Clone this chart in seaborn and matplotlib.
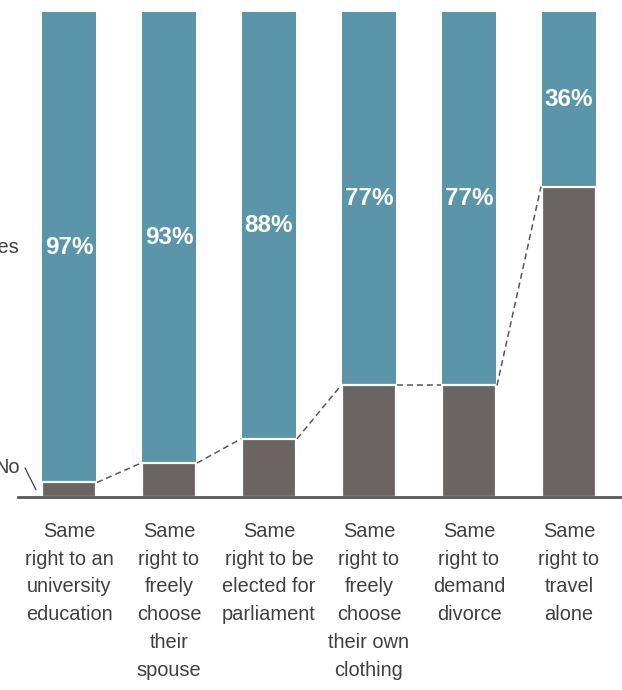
import matplotlib
matplotlib.use("Agg")
import matplotlib.pyplot as plt
import seaborn as sns
import pandas as pd

# Survey: share answering "Yes" to whether women should have the same rights
categories = [
    "Same\nright to an\nuniversity\neducation",
    "Same\nright to\nfreely\nchoose\ntheir\nspouse",
    "Same\nright to be\nelected for\nparliament",
    "Same\nright to\nfreely\nchoose\ntheir own\nclothing",
    "Same\nright to\ndemand\ndivorce",
    "Same\nright to\ntravel\nalone",
]
yes_pct = [97, 93, 88, 77, 77, 36]
no_pct = [100 - v for v in yes_pct]
yes_labels = [f"{v}%" for v in yes_pct]

TEAL = "#5b95aa"
GREY = "#6a6563"
TEXT = "#404040"
AXIS = "#595959"

sns.set_theme(style="white")
plt.rcParams["font.family"] = ["Liberation Sans", "DejaVu Sans"]

df = pd.DataFrame({
    "category": categories,
    "total": [y + n for y, n in zip(yes_pct, no_pct)],
    "no": no_pct,
    "yes": yes_pct,
})

fig = plt.figure(figsize=(6.22, 6.90), dpi=100)
W, H = 622, 690
# axes spans the full width; y from 12px (100%) to 497px (0%)
ax = fig.add_axes([0, (H - 497) / H, 1, (497 - 12) / H])

bar_w = 0.54
sns.barplot(data=df, x="category", y="total", color=TEAL, width=bar_w,
            saturation=1, ax=ax, linewidth=0)
sns.barplot(data=df, x="category", y="no", color=GREY, width=bar_w,
            saturation=1, ax=ax, edgecolor="white", linewidth=1.6)

ax.set_xlim(-0.69, 5.53)
ax.set_ylim(0, 100)

# Yes percentages centred in the upper segment
for i, (n, lab) in enumerate(zip(no_pct, yes_labels)):
    ax.text(i, n + (100 - n) / 2, lab, ha="center", va="center",
            color="white", fontsize=17.5, fontweight="bold")

# dashed connectors between the tops of the "No" segments
for i in range(len(no_pct) - 1):
    ax.plot([i + bar_w / 2 + 0.01, i + 1 - bar_w / 2 - 0.01],
            [no_pct[i], no_pct[i + 1]], linestyle=(0, (4, 2.5)),
            color=AXIS, linewidth=1.1)

# series labels on the left
ax.text(-0.50, no_pct[0] + (100 - no_pct[0]) / 2, "Yes", ha="right",
        va="center", fontsize=14.4, color=TEXT, clip_on=False)
ax.text(-0.49, 6.0, "No", ha="right", va="center", fontsize=14.4,
        color=TEXT, clip_on=False)
ax.plot([-0.44, -0.33], [6.0, 1.5], color=TEXT, linewidth=0.9,
        clip_on=False)

# axes styling
for side in ["top", "left", "right"]:
    ax.spines[side].set_visible(False)
ax.spines["bottom"].set_color(AXIS)
ax.spines["bottom"].set_linewidth(2)
ax.spines["bottom"].set_bounds(-0.51, 5.53)
ax.set_yticks([])
ax.set_xlabel("")
ax.set_ylabel("")
ax.tick_params(axis="x", length=0, pad=18)
ax.set_xticks(range(len(categories)))
ax.set_xticklabels(categories, fontsize=14.4, color=TEXT, linespacing=1.58,
                   va="top")

fig.savefig("out.png", dpi=100)
